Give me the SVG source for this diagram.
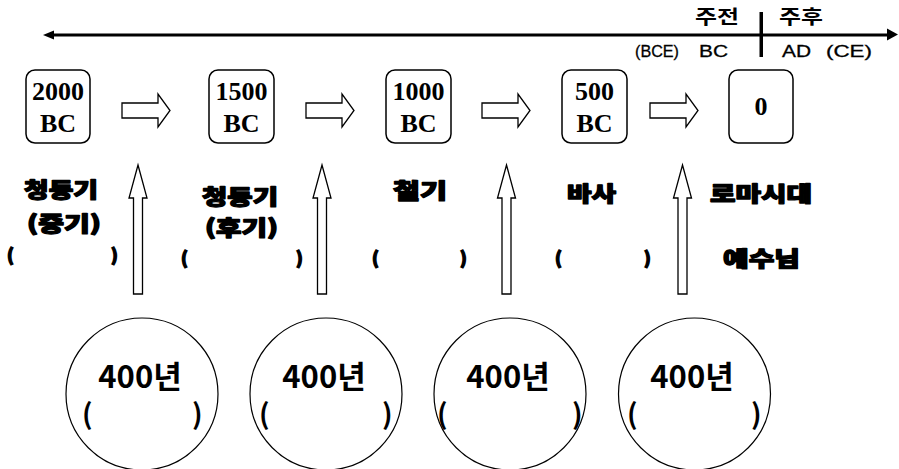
<svg xmlns="http://www.w3.org/2000/svg" xmlns:xlink="http://www.w3.org/1999/xlink" width="899" height="469" viewBox="0 0 899 469">
<style>
.box{fill:#fff;stroke:#000;stroke-width:1.5}
.yr{font-family:"Liberation Serif","Times New Roman",serif;font-weight:bold;font-size:26px;text-anchor:middle;fill:#000}
.hd{font-family:"Noto Sans CJK KR",sans-serif;font-weight:900;font-size:21px;fill:#000;stroke:#000;stroke-width:1.3;stroke-linejoin:round}
.par{font-family:"Noto Sans CJK KR",sans-serif;font-weight:900;font-size:17px;fill:#000;stroke:#000;stroke-width:1.4}
.tl{font-family:"Liberation Sans",Arial,sans-serif;font-size:17px;fill:#000;stroke:#000;stroke-width:0.3}
.tk{font-family:"Noto Sans CJK KR",sans-serif;font-weight:700;font-size:19px;fill:#000}
.cir{fill:#fff;stroke:#000;stroke-width:1.2}
.cn{font-family:"Noto Sans CJK KR",sans-serif;font-weight:bold;font-size:31px;text-anchor:middle;fill:#000}
.cp{font-family:"Noto Sans CJK KR",sans-serif;font-weight:bold;font-size:28px;fill:#000}
.hol{fill:#fff;stroke:#000;stroke-width:1.3}
</style>
<defs>
<path id="harrow" d="M0,-7.5 H36 V-16.5 L48,0 L36,16.5 V7.5 H0 Z"/>
<path id="varrow" d="M0,0 L9,33 H4.5 V129 H-4.5 V33 H-9 Z"/>
</defs>

<g id="timeline">
<line x1="52" y1="35" x2="890" y2="35" stroke="#000" stroke-width="3"/>
<polygon points="43,35 54,30.5 54,39.5" fill="#000"/>
<polygon points="898,34.5 887,28.5 887,40.5" fill="#000"/>
<rect x="759.5" y="12" width="3.5" height="45" fill="#000"/>
<text class="tk" x="695" y="24" textLength="44" lengthAdjust="spacingAndGlyphs">주전</text>
<text class="tk" x="779" y="24" textLength="44" lengthAdjust="spacingAndGlyphs">주후</text>
<text class="tl" x="635" y="57" textLength="44" lengthAdjust="spacingAndGlyphs">(BCE)</text>
<text class="tl" x="699" y="57" textLength="29" lengthAdjust="spacingAndGlyphs">BC</text>
<text class="tl" x="782" y="57" textLength="29" lengthAdjust="spacingAndGlyphs">AD</text>
<text class="tl" x="826" y="57" textLength="46" lengthAdjust="spacingAndGlyphs">(CE)</text>
</g>

<g id="box2000"><rect class="box" x="26" y="70" width="64" height="73" rx="9"/><text class="yr" x="58" y="100">2000</text><text class="yr" x="58" y="132">BC</text></g>
<g id="box1500"><rect class="box" x="209" y="70" width="65" height="73" rx="9"/><text class="yr" x="241.5" y="100">1500</text><text class="yr" x="241.5" y="132">BC</text></g>
<g id="box1000"><rect class="box" x="386" y="70" width="65" height="73" rx="9"/><text class="yr" x="418.5" y="100">1000</text><text class="yr" x="418.5" y="132">BC</text></g>
<g id="box500"><rect class="box" x="562" y="70" width="65" height="73" rx="9"/><text class="yr" x="594.5" y="100">500</text><text class="yr" x="594.5" y="132">BC</text></g>
<g id="box0"><rect class="box" x="729" y="70" width="64" height="73" rx="9"/><text class="yr" x="761" y="115">0</text></g>

<g id="connectors">
<use xlink:href="#harrow" class="hol" transform="translate(122,110.5)"/>
<use xlink:href="#harrow" class="hol" transform="translate(306,110.5)"/>
<use xlink:href="#harrow" class="hol" transform="translate(482,110.5)"/>
<use xlink:href="#harrow" class="hol" transform="translate(650,110.5)"/>
<use xlink:href="#varrow" class="hol" transform="translate(138,165)"/>
<use xlink:href="#varrow" class="hol" transform="translate(322,165)"/>
<use xlink:href="#varrow" class="hol" transform="translate(506.5,165)"/>
<use xlink:href="#varrow" class="hol" transform="translate(682.5,165)"/>
</g>

<g id="label1">
<text class="hd" x="24" y="197" textLength="74" lengthAdjust="spacingAndGlyphs">청동기</text>
<text class="hd" x="27" y="231" textLength="74" lengthAdjust="spacingAndGlyphs">(중기)</text>
<text class="par" x="7" y="261">(</text><text class="par" x="111" y="261">)</text>
</g>
<g id="label2">
<text class="hd" x="202" y="204" textLength="76" lengthAdjust="spacingAndGlyphs">청동기</text>
<text class="hd" x="205" y="235" textLength="73" lengthAdjust="spacingAndGlyphs">(후기)</text>
<text class="par" x="181" y="264">(</text><text class="par" x="296" y="264">)</text>
</g>
<g id="label3">
<text class="hd" x="393" y="198" textLength="54" lengthAdjust="spacingAndGlyphs">철기</text>
<text class="par" x="372" y="264">(</text><text class="par" x="460" y="264">)</text>
</g>
<g id="label4">
<text class="hd" x="567" y="201" textLength="49" lengthAdjust="spacingAndGlyphs">바사</text>
<text class="par" x="555" y="264">(</text><text class="par" x="644" y="264">)</text>
</g>
<g id="label5">
<text class="hd" x="710" y="201" textLength="102" lengthAdjust="spacingAndGlyphs">로마시대</text>
<text class="hd" x="723" y="266" textLength="77" lengthAdjust="spacingAndGlyphs">예수님</text>
</g>

<g id="circle1"><circle class="cir" cx="142" cy="394" r="76"/><text class="cn" x="140" y="388">400년</text><text class="cp" x="82" y="424">(</text><text class="cp" x="192" y="424">)</text></g>
<g id="circle2"><circle class="cir" cx="326" cy="394" r="76"/><text class="cn" x="324" y="388">400년</text><text class="cp" x="259" y="424">(</text><text class="cp" x="382" y="424">)</text></g>
<g id="circle3"><circle class="cir" cx="510" cy="394" r="76"/><text class="cn" x="508" y="388">400년</text><text class="cp" x="437" y="424">(</text><text class="cp" x="572" y="424">)</text></g>
<g id="circle4"><circle class="cir" cx="694.5" cy="394" r="76"/><text class="cn" x="692" y="388">400년</text><text class="cp" x="627" y="424">(</text><text class="cp" x="751" y="424">)</text></g>
</svg>
